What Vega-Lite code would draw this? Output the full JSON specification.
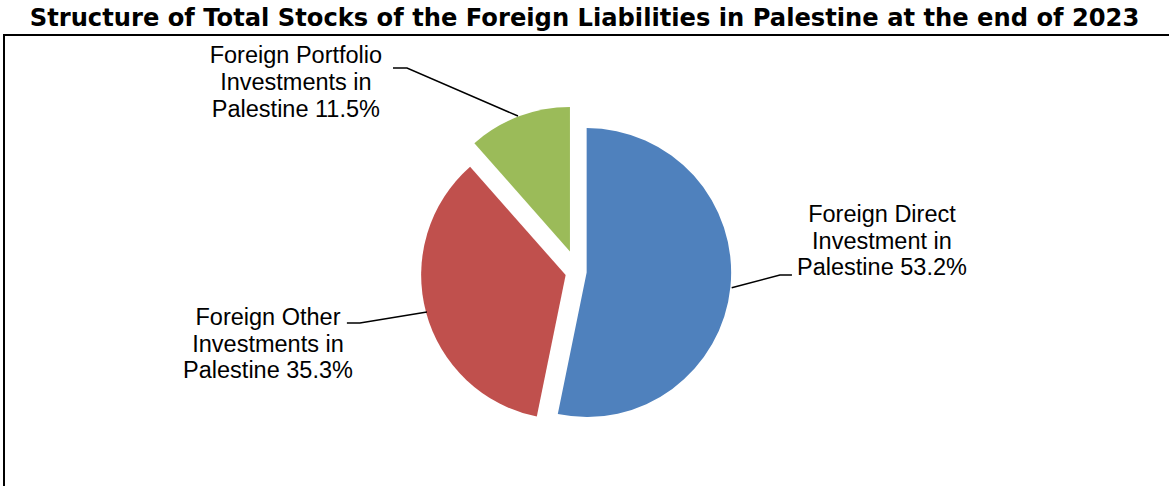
{
  "$schema": "https://vega.github.io/schema/vega-lite/v6.json",
  "width": 1171,
  "height": 466,
  "autosize": {"type": "none"},
  "padding": {"left": 4, "top": 35, "right": -6, "bottom": -15},
  "background": "white",
  "title": {
    "text": "Structure of Total Stocks of the Foreign Liabilities in Palestine at the end of 2023",
    "font": "DejaVu Sans",
    "fontSize": 24.2,
    "fontWeight": "bold",
    "color": "black",
    "anchor": "middle",
    "baseline": "alphabetic",
    "offset": -15,
    "dx": -5
  },
  "config": {"view": {"stroke": "black", "strokeWidth": 2}},
  "datasets": {
    "slices": [
      {"category": "Foreign Direct Investment in Palestine", "value": 53.2, "label": "Foreign Direct\nInvestment in\nPalestine 53.2%"},
      {"category": "Foreign Other Investments in Palestine", "value": 35.3, "label": "Foreign Other\nInvestments in\nPalestine 35.3%"},
      {"category": "Foreign Portfolio Investments in Palestine", "value": 11.5, "label": "Foreign Portfolio\nInvestments in\nPalestine 11.5%"}
    ],
    "labelpos": [
      {"category": "Foreign Direct Investment in Palestine", "lx": 2.106, "ly": 0.345},
      {"category": "Foreign Other Investments in Palestine", "lx": -2.143, "ly": -0.368},
      {"category": "Foreign Portfolio Investments in Palestine", "lx": -1.95, "ly": 1.443}
    ],
    "leaders": [
      {"category": "Foreign Direct Investment in Palestine", "seq": 1, "x": 1.066, "y": -0.11},
      {"category": "Foreign Direct Investment in Palestine", "seq": 2, "x": 1.4, "y": -0.022},
      {"category": "Foreign Direct Investment in Palestine", "seq": 3, "x": 1.483, "y": -0.022},
      {"category": "Foreign Other Investments in Palestine", "seq": 1, "x": -1.043, "y": -0.278},
      {"category": "Foreign Other Investments in Palestine", "seq": 2, "x": -1.507, "y": -0.354},
      {"category": "Foreign Other Investments in Palestine", "seq": 3, "x": -1.597, "y": -0.354},
      {"category": "Foreign Portfolio Investments in Palestine", "seq": 1, "x": -0.413, "y": 1.078},
      {"category": "Foreign Portfolio Investments in Palestine", "seq": 2, "x": -1.181, "y": 1.41},
      {"category": "Foreign Portfolio Investments in Palestine", "seq": 3, "x": -1.278, "y": 1.41}
    ]
  },
  "layer": [
    {
      "data": {"name": "slices"},
      "transform": [
        {"stack": "value", "groupby": [], "as": ["v0", "v1"]},
        {"filter": "datum.category === 'Foreign Direct Investment in Palestine'"}
      ],
      "mark": {"type": "arc", "outerRadius": 144.5, "xOffset": 9, "yOffset": 0.7},
      "encoding": {
        "x": {"datum": 0, "type": "quantitative", "scale": {"domain": [-3.97, 4.134], "nice": false, "zero": false}, "axis": null},
        "y": {"datum": 0, "type": "quantitative", "scale": {"domain": [-1.586, 1.639], "nice": false, "zero": false}, "axis": null},
        "theta": {"field": "v0", "type": "quantitative", "scale": {"domain": [0, 100]}},
        "theta2": {"field": "v1"},
        "color": {"field": "category", "type": "nominal", "legend": null,
          "scale": {"domain": ["Foreign Direct Investment in Palestine", "Foreign Other Investments in Palestine", "Foreign Portfolio Investments in Palestine"], "range": ["#4F81BD", "#C0504D", "#9BBB59"]}}
      }
    },
    {
      "data": {"name": "slices"},
      "transform": [
        {"stack": "value", "groupby": [], "as": ["v0", "v1"]},
        {"filter": "datum.category === 'Foreign Other Investments in Palestine'"}
      ],
      "mark": {"type": "arc", "outerRadius": 144.5, "xOffset": -12, "yOffset": 3.2},
      "encoding": {
        "x": {"datum": 0, "type": "quantitative", "scale": {"domain": [-3.97, 4.134], "nice": false, "zero": false}, "axis": null},
        "y": {"datum": 0, "type": "quantitative", "scale": {"domain": [-1.586, 1.639], "nice": false, "zero": false}, "axis": null},
        "theta": {"field": "v0", "type": "quantitative", "scale": {"domain": [0, 100]}},
        "theta2": {"field": "v1"},
        "color": {"field": "category", "type": "nominal", "legend": null,
          "scale": {"domain": ["Foreign Direct Investment in Palestine", "Foreign Other Investments in Palestine", "Foreign Portfolio Investments in Palestine"], "range": ["#4F81BD", "#C0504D", "#9BBB59"]}}
      }
    },
    {
      "data": {"name": "slices"},
      "transform": [
        {"stack": "value", "groupby": [], "as": ["v0", "v1"]},
        {"filter": "datum.category === 'Foreign Portfolio Investments in Palestine'"}
      ],
      "mark": {"type": "arc", "outerRadius": 144.5, "xOffset": -7.7, "yOffset": -20.3},
      "encoding": {
        "x": {"datum": 0, "type": "quantitative", "scale": {"domain": [-3.97, 4.134], "nice": false, "zero": false}, "axis": null},
        "y": {"datum": 0, "type": "quantitative", "scale": {"domain": [-1.586, 1.639], "nice": false, "zero": false}, "axis": null},
        "theta": {"field": "v0", "type": "quantitative", "scale": {"domain": [0, 100]}},
        "theta2": {"field": "v1"},
        "color": {"field": "category", "type": "nominal", "legend": null,
          "scale": {"domain": ["Foreign Direct Investment in Palestine", "Foreign Other Investments in Palestine", "Foreign Portfolio Investments in Palestine"], "range": ["#4F81BD", "#C0504D", "#9BBB59"]}}
      }
    },
    {
      "data": {"name": "leaders"},
      "mark": {"type": "line", "color": "black", "strokeWidth": 1.5, "interpolate": "linear"},
      "encoding": {
        "x": {"field": "x", "type": "quantitative", "scale": {"domain": [-3.97, 4.134], "nice": false, "zero": false}, "axis": null},
        "y": {"field": "y", "type": "quantitative", "scale": {"domain": [-1.586, 1.639], "nice": false, "zero": false}, "axis": null},
        "detail": {"field": "category", "type": "nominal"},
        "order": {"field": "seq", "type": "quantitative"}
      }
    },
    {
      "data": {"name": "slices"},
      "transform": [
        {"lookup": "category", "from": {"data": {"name": "labelpos"}, "key": "category", "fields": ["lx", "ly"]}}
      ],
      "mark": {"type": "text", "font": "Liberation Sans", "fontSize": 23.5, "lineHeight": 26.7, "lineBreak": "\n", "align": "center", "baseline": "alphabetic", "color": "black"},
      "encoding": {
        "x": {"field": "lx", "type": "quantitative", "scale": {"domain": [-3.97, 4.134], "nice": false, "zero": false}, "axis": null},
        "y": {"field": "ly", "type": "quantitative", "scale": {"domain": [-1.586, 1.639], "nice": false, "zero": false}, "axis": null},
        "text": {"field": "label", "type": "nominal"}
      }
    }
  ]
}
